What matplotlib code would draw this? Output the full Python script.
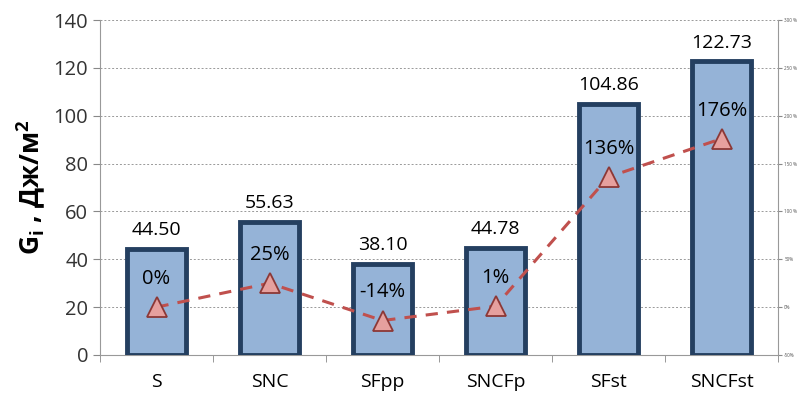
import matplotlib.pyplot as plt
import numpy as np

plt.rcParams['font.family'] = ['Open Sans', 'DejaVu Sans']

samples = ["S", "SNC", "SFpp", "SNCFp", "SFst", "SNCFst"]
energy = [44.50, 55.63, 38.10, 44.78, 104.86, 122.73]
change = [0, 25, -14, 1, 136, 176]

fig = plt.figure(figsize=(7.97, 3.99), dpi=100)
ax = fig.add_axes([100 / 797, 44 / 399, 678 / 797, 335 / 399])
x = np.arange(len(samples))

ax.bar(x, energy, width=0.53, color="#95B3D7", edgecolor="#243F60", linewidth=3.5, zorder=3)
for xi, v in zip(x, energy):
    ax.annotate(f"{v:.2f}", (xi, v), xytext=(0, 7), textcoords="offset points",
                ha="center", va="bottom", fontsize=14)

ax.set_xlim(-0.5, len(samples) - 0.5)
ax.set_ylim(0, 140)
ax.set_yticks(range(0, 141, 20))
ax.set_xticks(x)
ax.set_xticklabels(samples, fontsize=14)
ax.set_xticks(np.arange(-0.5, len(samples), 1), minor=True)
ax.tick_params(axis="x", which="major", length=0, pad=13)
ax.tick_params(axis="x", which="minor", length=5, color="#888888")
ax.tick_params(axis="y", labelsize=14.5, length=5, color="#888888", labelcolor="#333333")
ax.yaxis.grid(True, linestyle=(0, (2, 2)), color="#999999", linewidth=0.7, zorder=0)
for side in ["top", "right"]:
    ax.spines[side].set_visible(False)
ax.spines["left"].set_color("#999999")
ax.spines["bottom"].set_color("#999999")
ax.set_ylabel("G$_\\mathregular{i}$ , Дж/м$^\\mathregular{2}$", fontsize=19, fontweight="bold", labelpad=4)

ax2 = ax.twinx()
ax2.set_ylim(-50, 300)
ax2.set_yticks(range(-50, 301, 50))
ax2.set_yticklabels(["-50%", "0%", "50%", "100 %", "150 %", "200 %", "250 %", "300 %"], fontsize=3.3, color="#555555")
ax2.tick_params(axis="y", length=3, pad=1.5, color="#888888")
for side in ["top", "left", "bottom"]:
    ax2.spines[side].set_visible(False)
ax2.spines["right"].set_color("#999999")
ax2.plot(x, change, linestyle=(0, (4, 3)), color="#C0504D", linewidth=2.2,
         marker="^", markersize=14, markerfacecolor="#E6A09E", markeredgecolor="#8C3836",
         markeredgewidth=1.3, zorder=5)
for xi, c in zip(x, change):
    ax2.annotate(f"{c}%", (xi, c), xytext=(0, 13), textcoords="offset points",
                 ha="center", va="bottom", fontsize=14.5)

fig.savefig("out.png", dpi=100)
